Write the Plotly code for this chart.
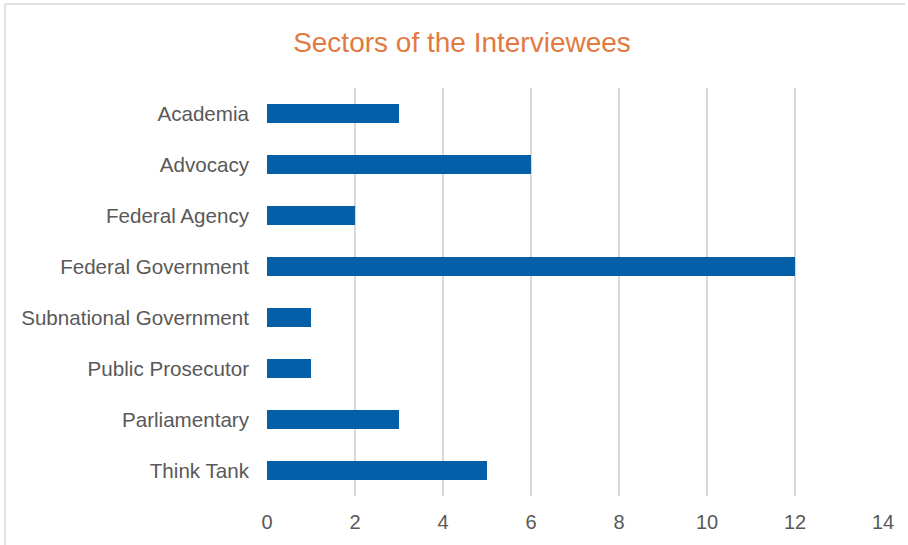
import plotly.graph_objects as go

categories = ["Academia", "Advocacy", "Federal Agency", "Federal Government",
              "Subnational Government", "Public Prosecutor", "Parliamentary", "Think Tank"]
values = [3, 6, 2, 12, 1, 1, 3, 5]
x_ticks = [0, 2, 4, 6, 8, 10, 12, 14]

W, H = 908, 545
ml, mr, mt, mb = 267, 25, 88, 49
pw, ph = W - ml - mr, H - mt - mb

fig = go.Figure(go.Bar(
    x=values, y=categories, orientation="h",
    marker=dict(color="#0360A8", line=dict(width=0)),
    width=0.37,
))

fig.update_layout(
    width=W, height=H,
    margin=dict(l=ml, r=mr, t=mt, b=mb),
    paper_bgcolor="white", plot_bgcolor="white",
    title=dict(text="Sectors of the Interviewees", x=462 / W, xanchor="center",
               y=1 - 42 / H, yanchor="middle",
               font=dict(family="Liberation Sans, Arial", size=28, color="#E27A3F")),
    font=dict(family="Liberation Sans, Arial", size=20, color="#595959"),
    xaxis=dict(range=[0, 14], tickvals=x_ticks, showgrid=True, gridcolor="#D9D9D9",
               gridwidth=1.5, zeroline=False, showline=False, ticks="",
               ticklabelstandoff=12,
               tickfont=dict(size=20, color="#595959")),
    yaxis=dict(categoryorder="array", categoryarray=categories[::-1],
               showgrid=False, zeroline=False, showline=False, ticks="",
               ticklabelstandoff=17, tickfont=dict(size=20.6, color="#595959")),
    showlegend=False,
)

# chart border (top and left visible)
x0 = (5 - ml) / pw
y_top = 1 + (mt - 4) / ph
fig.add_shape(type="line", xref="paper", yref="paper", x0=x0, x1=(905 - ml) / pw,
              y0=y_top, y1=y_top, line=dict(color="#D9D9D9", width=1.5))
fig.add_shape(type="line", xref="paper", yref="paper", x0=x0, x1=x0,
              y0=y_top, y1=-(mb + 5) / ph, line=dict(color="#D9D9D9", width=1.5))

fig.write_html("out.html")
